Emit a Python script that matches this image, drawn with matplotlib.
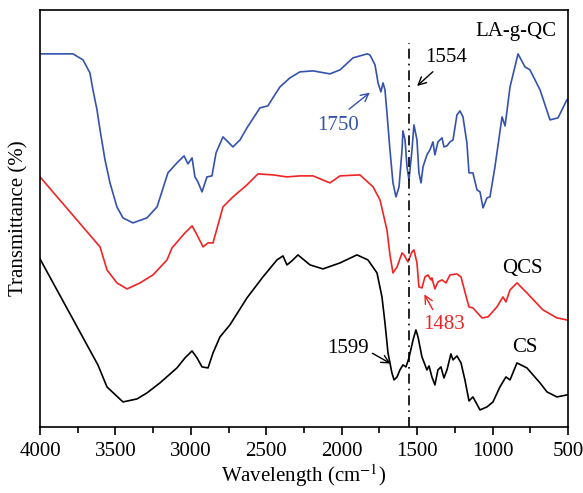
import matplotlib
matplotlib.use('Agg')
import matplotlib.pyplot as plt
from matplotlib.ticker import MultipleLocator

plt.rcParams['font.family'] = 'Liberation Serif'
plt.rcParams['mathtext.fontset'] = 'stix'
plt.rcParams['font.size'] = 15

# FTIR spectra (wavenumber, offset transmittance in arbitrary units)
lagqc_wn = [4000, 3781, 3715, 3669, 3649, 3622, 3602, 3569, 3536, 3490, 3450, 3384,
            3291, 3224, 3152, 3092, 3045, 3019, 2992, 2973, 2953, 2926, 2893, 2860,
            2833, 2787, 2754, 2721, 2674, 2628, 2542, 2489, 2456, 2409, 2343, 2277,
            2190, 2078, 2011, 1925, 1832, 1813, 1779, 1759, 1740, 1726, 1713, 1700,
            1680, 1660, 1640, 1620, 1600, 1594, 1580, 1567, 1554, 1534, 1521, 1501,
            1488, 1474, 1461, 1435, 1415, 1395, 1382, 1362, 1335, 1322, 1302, 1282,
            1262, 1236, 1216, 1196, 1170, 1156, 1130, 1103, 1083, 1063, 1037, 1017,
            984, 937, 917, 884, 831, 785, 752, 685, 619, 566, 507]
lagqc_t = [373, 373, 367, 354, 337, 317, 297, 267, 244, 220, 209, 204,
           209, 220, 254, 264, 271, 263, 269, 250, 245, 235, 250, 251,
           274, 290, 285, 280, 287, 299, 319, 321, 329, 340, 349, 355,
           356, 353, 357, 369, 373, 372, 362, 344, 335, 344, 337, 314,
           277, 244, 230, 240, 277, 296, 287, 260, 247, 277, 302, 287,
           254, 244, 260, 272, 277, 285, 272, 285, 289, 280, 281, 285,
           287, 312, 316, 310, 284, 254, 254, 237, 235, 219, 229, 230,
           260, 310, 301, 340, 373, 360, 357, 337, 307, 309, 327]

qcs_wn = [4000, 3602, 3556, 3490, 3423, 3337, 3251, 3158, 3125, 3039, 2992, 2959,
          2919, 2886, 2853, 2787, 2721, 2628, 2555, 2456, 2363, 2277, 2190, 2078,
          2011, 1879, 1792, 1746, 1700, 1680, 1660, 1633, 1600, 1587, 1561, 1534,
          1521, 1501, 1488, 1468, 1448, 1428, 1408, 1402, 1382, 1362, 1335, 1309,
          1282, 1236, 1209, 1183, 1156, 1130, 1070, 1030, 971, 931, 911, 884,
          838, 772, 666, 573, 507]
qcs_t = [250, 180, 157, 144, 138, 144, 152, 167, 179, 194, 201, 192,
         180, 184, 184, 220, 230, 242, 253, 252, 250, 251, 251, 244,
         251, 252, 240, 227, 197, 172, 154, 160, 174, 172, 165, 175,
         177, 164, 140, 139, 150, 152, 147, 149, 138, 145, 147, 144,
         152, 153, 150, 135, 120, 119, 109, 110, 120, 130, 125, 137,
         144, 134, 117, 109, 107]

cs_wn = [4000, 3616, 3556, 3450, 3357, 3291, 3205, 3092, 3039, 2992, 2959, 2926,
         2886, 2853, 2807, 2741, 2628, 2522, 2429, 2389, 2363, 2330, 2290, 2210,
         2124, 2011, 1899, 1826, 1766, 1733, 1713, 1693, 1667, 1653, 1633, 1614,
         1594, 1574, 1554, 1527, 1508, 1494, 1468, 1455, 1435, 1421, 1402, 1382,
         1362, 1342, 1322, 1302, 1276, 1262, 1236, 1209, 1183, 1156, 1130, 1083,
         1037, 997, 951, 911, 884, 838, 772, 685, 639, 573, 507]
cs_t = [168, 62, 40, 25, 28, 34, 44, 59, 69, 76, 69, 60,
        59, 74, 90, 102, 129, 150, 167, 171, 162, 166, 172, 162,
        158, 164, 172, 167, 154, 130, 104, 74, 54, 47, 50, 57,
        62, 60, 69, 87, 97, 90, 70, 65, 57, 61, 50, 42,
        57, 60, 49, 57, 73, 67, 71, 64, 47, 26, 30, 17,
        20, 25, 40, 50, 47, 64, 59, 44, 35, 30, 32]

blue = '#3452ac'
red = '#f02424'

fig = plt.figure(figsize=(5.83, 4.93), dpi=100)
ax = fig.add_axes([0.0686, 0.134, 0.9056, 0.846])

ax.plot(lagqc_wn, lagqc_t, color=blue, lw=1.2)
ax.plot(qcs_wn, qcs_t, color=red, lw=1.2)
ax.plot(cs_wn, cs_t, color='black', lw=1.2)

ax.vlines(1554, 0, 384, colors='black', linestyles=(0, (6, 3, 1, 3)), lw=1.2)

ax.text(845, 395, 'LA-g-QC', ha='center', va='center')
ax.text(805, 158, 'QCS', ha='center', va='center')
ax.text(788, 79, 'CS', ha='center', va='center')

ax.text(1309, 369, '1554', ha='center', va='center')
ax.annotate('', xy=(1514, 339), xytext=(1382, 357),
            arrowprops=dict(arrowstyle='->', color='black', lw=1.0, mutation_scale=14))
ax.text(2021, 301, '1750', ha='center', va='center', color=blue)
ax.annotate('', xy=(1799, 336), xytext=(1965, 316),
            arrowprops=dict(arrowstyle='->', color=blue, lw=1.0, mutation_scale=14))
ax.text(1322, 102, '1483', ha='center', va='center', color=red)
ax.annotate('', xy=(1461, 135), xytext=(1388, 115),
            arrowprops=dict(arrowstyle='->', color=red, lw=1.0, mutation_scale=14))
ax.text(1958, 78, '1599', ha='center', va='center')
ax.annotate('', xy=(1660, 62), xytext=(1812, 75),
            arrowprops=dict(arrowstyle='->', color='black', lw=1.0, mutation_scale=14))

ax.set_xlim(4000, 500)
ax.set_ylim(0, 417)
ax.xaxis.set_major_locator(MultipleLocator(500))
ax.xaxis.set_minor_locator(MultipleLocator(250))
ax.tick_params(axis='x', which='major', direction='out', length=6, width=1.2, pad=5)
ax.tick_params(axis='x', which='minor', direction='out', length=4, width=1.2)
ax.set_yticks([])
for s in ax.spines.values():
    s.set_linewidth(1.2)

ax.set_xlabel(r'Wavelength (cm$^{-1}$)', labelpad=1)
ax.set_ylabel('Transmittance (%)', labelpad=8)

fig.savefig('out.png', dpi=100)
